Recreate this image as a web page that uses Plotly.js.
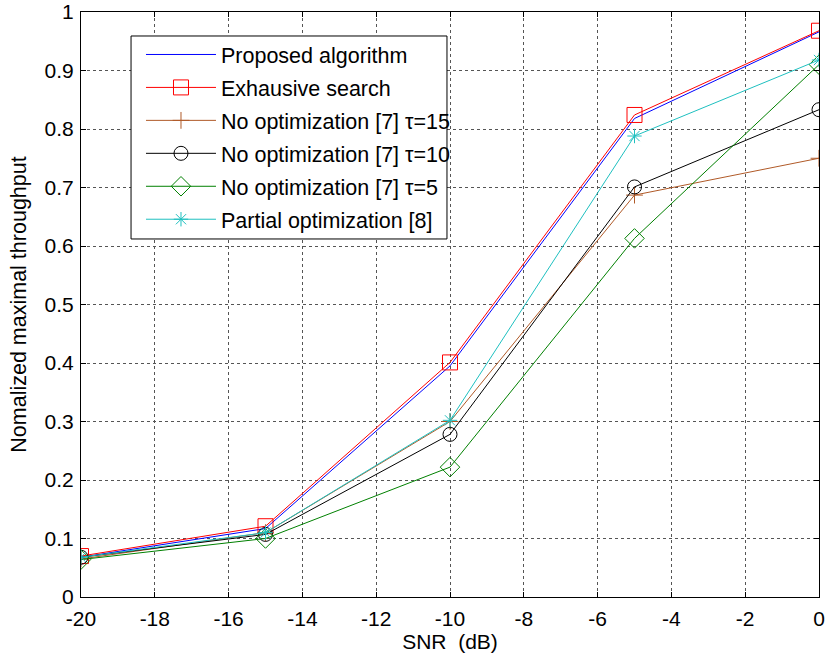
<!DOCTYPE html>
<html>
<head>
<meta charset="utf-8">
<script src="https://cdn.plot.ly/plotly-3.0.1.min.js"></script>
<style>html,body{margin:0;padding:0;background:#fff;}#chart{width:825px;height:661px;}</style>
</head>
<body>
<div id="chart"></div>
<script>
const snr = [-20, -15, -10, -5, 0];
const proposed = [0.068, 0.117, 0.395, 0.818, 0.966];
const exhaustive = [0.070, 0.121, 0.401, 0.824, 0.968];
const noOpt15 = [0.065, 0.110, 0.300, 0.687, 0.750];
const noOpt10 = [0.068, 0.107, 0.278, 0.701, 0.833];
const noOpt5 = [0.064, 0.100, 0.222, 0.613, 0.910];
const partial = [0.068, 0.110, 0.302, 0.788, 0.918];
const names = ['Proposed algorithm', 'Exhausive search', 'No optimization [7] \u03c4=15',
  'No optimization [7] \u03c4=10', 'No optimization [7] \u03c4=5', 'Partial optimization [8]'];
const xTickVals = [-20, -18, -16, -14, -12, -10, -8, -6, -4, -2, 0];
const xTickText = ['-20', '-18', '-16', '-14', '-12', '-10', '-8', '-6', '-4', '-2', '0'];

function tr(y, name, color, symbol, size, g) {
  const t = {x: snr, y: y, name: name, type: 'scatter', mode: symbol ? 'lines+markers' : 'lines',
    legendgroup: g, line: {color: color, width: 1}};
  if (symbol) t.marker = {symbol: symbol, size: size, color: color, line: {color: color, width: 1}};
  return t;
}
const data = [
  tr(proposed, names[0], '#0000ff', null, 0, 'a'),
  tr(exhaustive, names[1], '#ff0000', 'square-open', 15, 'b'),
  tr(noOpt15, names[2], '#b05a28', 'cross-thin-open', 12, 'c'),
  tr(noOpt10, names[3], '#000000', 'circle-open', 14, 'd'),
  tr(noOpt5, names[4], '#008000', 'diamond-open', 15, 'e'),
  tr(partial, names[5], '#1ec0c0', 'asterisk-open', 12, 'f')
];
const fam = 'Liberation Sans, Arial, sans-serif';
const f = s => ({family: fam, size: s, color: '#000'});
const layout = {
  width: 825, height: 661,
  margin: {l: 81, r: 6, t: 12, b: 64},
  paper_bgcolor: '#fff', plot_bgcolor: '#fff',
  font: f(21),
  showlegend: true,
  legend: {x: 0.0813, y: 0.9624, xanchor: 'left', yanchor: 'top', bgcolor: 'rgba(0,0,0,0)',
    borderwidth: 0, font: f(21.5),
    tracegroupgap: 2, itemwidth: 70, traceorder: 'grouped'},
  shapes: [{type: 'rect', xref: 'paper', yref: 'paper', x0: 0.0678, x1: 0.4959, y0: 0.612, y1: 0.959,
    line: {color: '#000', width: 1}, fillcolor: '#fff', layer: 'above'}],
  xaxis: {range: [-20, 0], tickmode: 'array', tickvals: xTickVals, ticktext: xTickText,
    showgrid: true, gridcolor: '#555', griddash: 'dot', gridwidth: 1,
    zeroline: false, showline: true, linecolor: '#000', linewidth: 1, mirror: 'ticks',
    ticks: 'inside', ticklen: 5, tickcolor: '#000', tickfont: f(21), ticklabelstandoff: 3,
    title: {text: 'SNR  (dB)', font: f(21), standoff: 3}},
  yaxis: {range: [0, 1], dtick: 0.1, tick0: 0, showgrid: true, gridcolor: '#555', griddash: 'dot', gridwidth: 1,
    zeroline: false, showline: true, linecolor: '#000', linewidth: 1, mirror: 'ticks',
    ticks: 'inside', ticklen: 5, tickcolor: '#000', tickfont: f(21), ticklabelstandoff: 2,
    title: {text: 'Nomalized maximal throughput', font: f(21.5), standoff: 12}}
};
Plotly.newPlot('chart', data, layout, {displayModeBar: false, staticPlot: true});
</script>
</body>
</html>
